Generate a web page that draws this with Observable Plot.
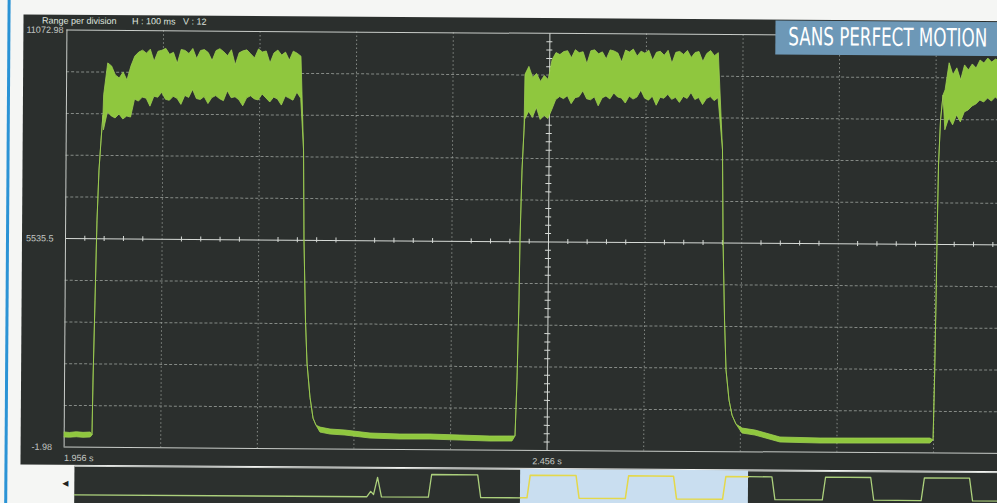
<!DOCTYPE html>
<html><head><meta charset="utf-8">
<script src="https://cdn.jsdelivr.net/npm/d3@7"></script>
<script src="https://cdn.jsdelivr.net/npm/@observablehq/plot@0.6"></script>
<style>
html,body{margin:0;padding:0;width:997px;height:503px;overflow:hidden;background:#f5f6f4;}
#page{position:absolute;left:0;top:0;width:1060px;height:540px;transform-origin:548px 241px;transform:rotate(0.39deg);}
#blueline{position:absolute;left:5.5px;top:-30px;width:3px;height:600px;background:#2a93d5;}
#panel{position:absolute;left:22px;top:17.8px;width:1030px;height:450px;background:#2b2f2d;}
#main{position:absolute;left:0;top:0;}
.hdr{position:absolute;top:19px;font:9px "Liberation Sans",Arial,sans-serif;color:#dfe3df;white-space:pre;}
#titlebg{position:absolute;left:773.6px;top:19.3px;width:300px;height:34px;background:#6d98b7;}
#title{position:absolute;left:773.6px;top:19.3px;width:215px;height:34px;}
#arrow{position:absolute;left:64px;top:482px;font:8px "DejaVu Sans",sans-serif;color:#222;}
#stripbg{position:absolute;left:75.6px;top:469px;width:980px;height:50px;background:#2c302e;border-top:1px solid #d4d8d4;box-sizing:border-box;}
#strip{position:absolute;left:0;top:469px;}
</style></head>
<body>
<div id="page">
  <div id="blueline"></div>
  <div id="panel"></div>
  <div id="main"></div>
  <div class="hdr" style="left:40.5px">Range per division</div>
  <div class="hdr" style="left:130.5px">H : 100 ms</div>
  <div class="hdr" style="left:181.5px">V : 12</div>
  <div id="titlebg"></div>
  <div id="title"><svg width="215" height="34"><text id="titletext" x="0" y="0" font-family="'Liberation Sans Narrow','DejaVu Sans Condensed',sans-serif" font-size="25" fill="#ffffff">SANS PERFECT MOTION</text></svg></div>
  <div id="arrow">◀</div>
  <div id="stripbg"></div>
  <div id="strip"></div>
</div>
<script>
// ---- axis divisions (H: 100 ms / division) ----
const xDivisions = [1.956, 2.056, 2.156, 2.256, 2.356, 2.456, 2.556, 2.656, 2.756, 2.856, 2.956];
const yDivisions = [-1.98, 1105.52, 2213.02, 3320.52, 4428.02, 5535.5, 6642.98, 7750.48, 8857.98, 9965.48, 11072.98];
const yTickValues = [-1.98, 5535.5, 11072.98];
const yTickLabels = ["-1.98", "5535.5", "11072.98"];
const xTickValues = [1.956, 2.456];
const xTickLabels = ["1.956 s", "2.456 s"];

// ---- trace: transitions and low level (time s, band top, band bottom) ----
const traceT = [1.956, 1.962, 1.969, 1.976, 1.9835, 1.9853, 1.9860, 1.9875, 1.9890, 1.9907, 1.9926, 1.9944,
  2.2023, 2.2034, 2.2055, 2.2074, 2.2107, 2.2140, 2.2171, 2.2213, 2.2317, 2.2472, 2.2731, 2.3041, 2.3352, 2.3662, 2.3973, 2.4201,
  2.4232, 2.4249, 2.4264, 2.4270, 2.4286, 2.4304,
  2.6360, 2.6372, 2.6393, 2.6412, 2.6445, 2.6477, 2.6519, 2.6582, 2.6716, 2.6975, 2.7390, 2.7804, 2.8218, 2.8528,
  2.8560, 2.8571, 2.8581, 2.8587, 2.8597, 2.8615, 2.8639];
const traceTop = [388, 375, 395, 380, 390, 311, 1772, 3896, 6021, 7349, 8146, 8810,
  7918, 5527, 3402, 2260, 1357, 800, 614, 563, 513, 489, 414, 393, 398, 377, 356, 361,
  361, 1849, 3973, 5567, 7426, 8489,
  7995, 5604, 3479, 2152, 1355, 956, 717, 614, 563, 383, 363, 369, 377, 382,
  332, 1926, 4051, 5644, 7636, 8831, 9495];
const traceBot = [255, 250, 262, 248, 258, 311, 1772, 3896, 6021, 7349, 8146, 8810,
  7918, 5527, 3402, 2260, 1357, 800, 614, 430, 380, 356, 281, 260, 265, 244, 223, 228,
  361, 1849, 3973, 5567, 7426, 8489,
  7995, 5604, 3479, 2152, 1355, 956, 717, 481, 430, 250, 230, 236, 244, 249,
  332, 1926, 4051, 5644, 7636, 8831, 9495];

// ---- noisy high level: envelope read every 4 ms ----
const hiStart = [1.995, 2.431, 2.866];
const hiStep = 0.004;
const hi1Top = [9347,10197,10117,9878,9798,9958,9745,10117,10382,10489,
  10542,10462,10568,10250,10515,10542,10595,10436,10489,10197,
  10568,10542,10462,10595,10329,10542,10568,10489,10276,10542,
  10595,10515,10409,10568,10170,10489,10542,10568,10462,10356,
  10595,10515,10542,10223,10489,10568,10436,10515,10303,10542,
  10489,10409];
const hi1Bot = [8417,8895,8789,8736,8842,8709,8789,8763,9240,9187,
  9294,9267,9055,9320,9294,9426,9240,9214,9320,9267,
  9108,9347,9294,9506,9267,9240,9320,9134,9294,9347,
  9267,9214,9479,9294,9320,9240,9081,9294,9347,9267,
  9240,9400,9294,9187,9320,9267,9108,9347,9294,9240,
  9453,9294];
const hi2Top = [9968,10180,9888,9994,9782,9941,9835,10366,10552,10499,
  10579,10605,10419,10632,10552,10579,10260,10605,10632,10526,
  10579,10393,10632,10605,10552,10313,10632,10579,10658,10472,
  10605,10552,10632,10366,10579,10605,10499,10632,10287,10579,
  10605,10526,10632,10446,10579,10605,10340,10552,10632,10499,
  10579];
const hi2Bot = [8773,8985,8826,9091,8773,8879,8799,9038,9304,9384,
  9330,9410,9198,9357,9384,9543,9330,9304,9384,9145,
  9357,9410,9330,9490,9384,9357,9224,9410,9330,9384,
  9569,9357,9304,9410,9171,9384,9357,9463,9330,9384,
  9251,9410,9357,9516,9330,9384,9198,9357,9410,9304,
  9384];
const hi3Top = [9634,10352,10033,10219,9900,10298,10166,10325,10219,10431,10352,10484,10378,10458,10405,10420];
const hi3Bot = [8572,8891,8705,8970,8784,9050,9103,9209,9263,9369,9316,9422,9342,9449,9369,9400];

// ---- overview strip ----
const ovRise = [1.546, 1.985, 2.423, 2.856, 3.300, 3.740];
const ovFall = [1.765, 2.203, 2.637, 3.075, 3.515, 3.955];
const ovLevels = [300, 9900];          // low, high
const ovEdge = 0.014;                   // transition duration
const ovBumpT = [1.2713, 1.289, 1.302, 1.3193, 1.3371];
const ovBumpV = [300, 2600, 1300, 8500, 300];
const ovWindow = [1.956, 2.971];
const ovRange = [-0.0302, 4.2638];

// ---------- title fit ----------
const tt = document.getElementById("titletext");
const tw = tt.getComputedTextLength();
tt.setAttribute("transform", `translate(13,24.5) scale(${199 / tw},1)`);

// ---------- build main trace table ----------
const rows = [];
traceT.forEach((t, i) => rows.push({t, top: traceTop[i], bot: traceBot[i]}));
[[hi1Top, hi1Bot], [hi2Top, hi2Bot], [hi3Top, hi3Bot]].forEach(([tp, bt], k) =>
  tp.forEach((v, i) => rows.push({t: hiStart[k] + i * hiStep, top: v, bot: bt[i]})));
rows.sort((a, b) => a.t - b.t);

const cx = xDivisions[5], cy = yDivisions[5];
const yPerPx = (yDivisions[10] - yDivisions[0]) / 417;
const xPerPx = (xDivisions[1] - xDivisions[0]) / 96.6;
const minorX = [], minorY = [];
for (let i = 0; i < 10; i++) for (let j = 1; j < 5; j++) {
  minorX.push(xDivisions[i] + (xDivisions[i + 1] - xDivisions[i]) * j / 5);
  minorY.push(yDivisions[i] + (yDivisions[i + 1] - yDivisions[i]) * j / 5);
}
const gridC = "#a4a9a4", frameC = "#c9cdc9", centerC = "#d6dad6", lime = "#8fc73e", txtC = "#c4c8c4";
const font = "Liberation Sans, Arial, sans-serif";

const main = Plot.plot({
  width: 1031, height: 468,
  marginLeft: 65, marginRight: 0, marginTop: 32.9, marginBottom: 18.1,
  x: {domain: [xDivisions[0], xDivisions[10]], axis: null},
  y: {domain: [yDivisions[0], yDivisions[10]], axis: null},
  style: {background: "transparent", overflow: "visible"},
  marks: [
    Plot.ruleX(xDivisions.slice(1, 10).filter((d, i) => i !== 4), {stroke: gridC, strokeOpacity: 0.75, strokeDasharray: "1.5,2.5"}),
    Plot.ruleY(yDivisions.slice(1, 10).filter((d, i) => i !== 4), {stroke: gridC, strokeOpacity: 0.75, strokeDasharray: "3,2"}),
    Plot.ruleX([cx], {stroke: centerC, strokeWidth: 1}),
    Plot.ruleY([cy], {stroke: centerC, strokeWidth: 1}),
    Plot.ruleX(minorX, {y1: cy - 2.5 * yPerPx, y2: cy + 2.5 * yPerPx, stroke: centerC}),
    Plot.ruleY(minorY, {x1: cx - 3 * xPerPx, x2: cx + 3 * xPerPx, stroke: centerC}),
    Plot.ruleX([xDivisions[0]], {stroke: frameC}),
    Plot.ruleY([yDivisions[0], yDivisions[10]], {stroke: frameC}),
    Plot.areaY(rows, {x: "t", y1: "bot", y2: "top", fill: lime, stroke: "#9fcf52", strokeWidth: 0.8, clip: true}),
    Plot.text(yTickValues.slice(0, 2), {x: xDivisions[0], y: d => d, text: (d, i) => yTickLabels[i], textAnchor: "end", dx: -12, fill: txtC, fontSize: 9, fontFamily: font}),
    Plot.text(yTickValues.slice(2), {x: xDivisions[0], y: d => d, text: () => yTickLabels[2], textAnchor: "end", dx: -3.5, fill: txtC, fontSize: 9, fontFamily: font}),
    Plot.text(xTickValues.slice(0, 1), {x: d => d, y: yDivisions[0], text: () => xTickLabels[0], textAnchor: "start", dy: 11, fill: txtC, fontSize: 9, fontFamily: font}),
    Plot.text(xTickValues.slice(1), {x: d => d, y: yDivisions[0], text: () => xTickLabels[1], textAnchor: "middle", dy: 11, fill: txtC, fontSize: 9, fontFamily: font})
  ]
});
document.getElementById("main").appendChild(main);

// ---------- overview ----------
const [lo, hi] = ovLevels;
const ovPts = [{t: ovRange[0], v: lo}];
ovBumpT.forEach((t, i) => ovPts.push({t, v: ovBumpV[i]}));
ovRise.forEach((r, i) => {
  ovPts.push({t: r, v: lo}, {t: r + ovEdge, v: hi}, {t: ovFall[i], v: hi}, {t: ovFall[i] + ovEdge, v: lo});
});
ovPts.push({t: ovRange[1], v: lo});
const levelAt = t => ovRise.some((r, i) => t >= r + ovEdge && t <= ovFall[i]) ? hi : lo;
const segOut = [], segIn = [];
ovPts.forEach(p => {
  if (p.t < ovWindow[0]) segOut.push({...p, seg: "a"});
  else if (p.t > ovWindow[1]) segOut.push({...p, seg: "b"});
  else segIn.push(p);
});
segOut.push({t: ovWindow[0], v: levelAt(ovWindow[0]), seg: "a"}, {t: ovWindow[1], v: levelAt(ovWindow[1]), seg: "b"});
segIn.push({t: ovWindow[0], v: levelAt(ovWindow[0])}, {t: ovWindow[1], v: levelAt(ovWindow[1])});
segOut.sort((a, b) => a.t - b.t);
segIn.sort((a, b) => a.t - b.t);

const strip = Plot.plot({
  width: 1040, height: 40,
  marginLeft: 75.6, marginRight: 0, marginTop: 0, marginBottom: 0,
  x: {domain: ovRange, axis: null},
  y: {domain: [-4563, 12353], axis: null},
  style: {background: "transparent"},
  marks: [
    Plot.rect([ovWindow], {x1: d => d[0], x2: d => d[1], fill: "#c9def0"}),
    Plot.line(segOut, {x: "t", y: "v", z: "seg", stroke: "#acd07c", strokeWidth: 1.3}),
    Plot.line(segIn, {x: "t", y: "v", stroke: "#e4d84a", strokeWidth: 1.5})
  ]
});
document.getElementById("strip").appendChild(strip);
</script>
</body></html>
